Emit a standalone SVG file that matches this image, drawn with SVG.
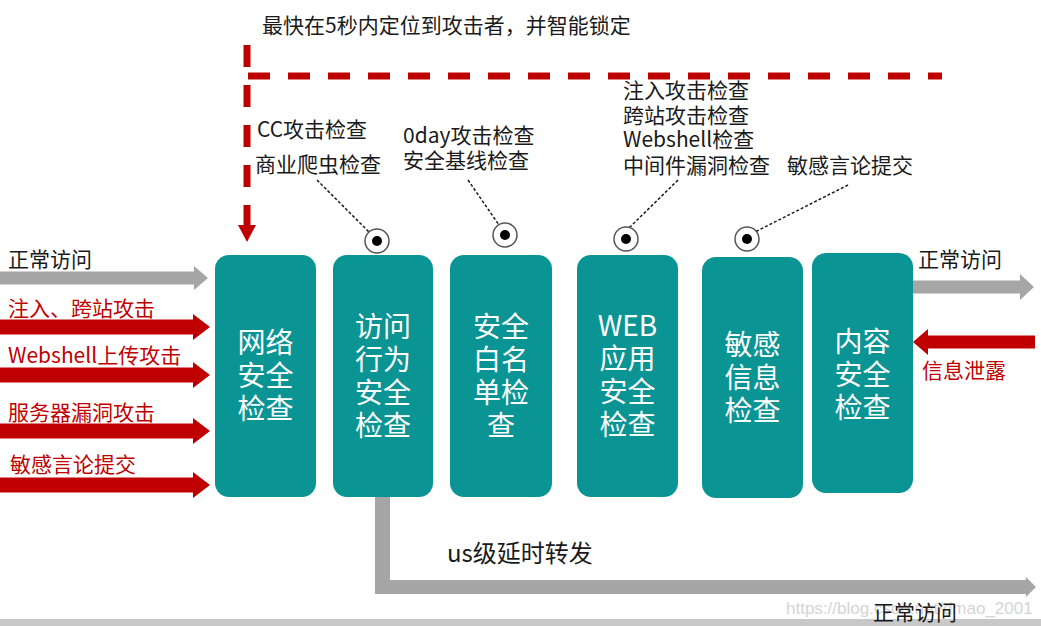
<svg xmlns="http://www.w3.org/2000/svg" width="1041" height="626" viewBox="0 0 1041 626">
<style>
.t{font-family:"Noto Sans CJK SC","Liberation Sans",sans-serif;font-size:21px;fill:#1a1a1a}
.r{fill:#c00000}
.bt{font-family:"Noto Sans CJK SC","Liberation Sans",sans-serif;font-size:28px;fill:#ffffff;text-anchor:middle}
.box{fill:#0a9494}
.grey{fill:#a6a6a6}
.red{fill:#c00000}
.dot{fill:none;stroke:#1a1a1a;stroke-width:1.5;stroke-dasharray:3 2}
.ring{fill:#ffffff;stroke:#555555;stroke-width:1.5}
.ctr{fill:#000000}
.dash{fill:none;stroke:#c00000;stroke-width:7;stroke-dasharray:22 18}
</style>
<rect x="0" y="0" width="1041" height="626" fill="#ffffff"/>
<rect x="0" y="619" width="1041" height="7" fill="#c8c8c8"/>
<text x="786" y="614" style="font-family:'Liberation Sans',sans-serif;font-size:17px;fill:#d4d4d4">https://blog.csdn.net/dmao_2001</text>

<g id="connectors">
  <path class="dash" d="M247,45 V226"/>
  <path class="dash" d="M248,76 H942"/>
  <polygon class="red" points="238,225 256,225 247,242"/>
  <polygon class="grey" points="0,271.5 194,271.5 194,266 208,278 194,290 194,284.5 0,284.5"/>
  <polygon class="red" points="0,319.5 193,319.5 193,314 210,327 193,340 193,334.5 0,334.5"/>
  <polygon class="red" points="0,367.5 193,367.5 193,362 210,375 193,388 193,382.5 0,382.5"/>
  <polygon class="red" points="0,423.5 193,423.5 193,418 210,431 193,444 193,438.5 0,438.5"/>
  <polygon class="red" points="0,477.5 193,477.5 193,472 210,485 193,498 193,492.5 0,492.5"/>
  <polygon class="grey" points="913,280.5 1020,280.5 1020,274 1034,287 1020,300 1020,293.5 913,293.5"/>
  <polygon class="red" points="1035,335.5 928,335.5 928,329 913,342 928,355 928,348.5 1035,348.5"/>
  <polygon class="grey" points="375,497 390,497 390,580 1026,580 1026,577 1036,587 1026,597 1026,594 375,594"/>
  <line class="dot" x1="317" y1="180" x2="369" y2="232"/>
  <line class="dot" x1="468" y1="180" x2="499" y2="225"/>
  <line class="dot" x1="678" y1="180" x2="629" y2="228"/>
  <line class="dot" x1="848" y1="185" x2="755" y2="232"/>
  <circle class="ring" cx="377" cy="241" r="12"/><circle class="ctr" cx="377" cy="241" r="5"/>
  <circle class="ring" cx="505" cy="235" r="12"/><circle class="ctr" cx="505" cy="235" r="5"/>
  <circle class="ring" cx="626" cy="239" r="12"/><circle class="ctr" cx="626" cy="239" r="5"/>
  <circle class="ring" cx="747" cy="239" r="12"/><circle class="ctr" cx="747" cy="239" r="5"/>
</g>

<g id="labels">
  <text class="t" x="262" y="33">最快在5秒内定位到攻击者，并智能锁定</text>
  <text class="t" x="8" y="267">正常访问</text>
  <text class="t r" x="8" y="316">注入、跨站攻击</text>
  <text class="t r" x="8" y="363">Webshell上传攻击</text>
  <text class="t r" x="8" y="420">服务器漏洞攻击</text>
  <text class="t r" x="10" y="472">敏感言论提交</text>
  <text class="t" x="257" y="137">CC攻击检查</text>
  <text class="t" x="255" y="172">商业爬虫检查</text>
  <text class="t" x="403" y="143">0day攻击检查</text>
  <text class="t" x="403" y="168">安全基线检查</text>
  <text class="t" x="623" y="98">注入攻击检查</text>
  <text class="t" x="623" y="123">跨站攻击检查</text>
  <text class="t" x="623" y="147">Webshell检查</text>
  <text class="t" x="623" y="173">中间件漏洞检查</text>
  <text class="t" x="787" y="173">敏感言论提交</text>
  <text class="t" x="918" y="267">正常访问</text>
  <text class="t r" x="922" y="378">信息泄露</text>
  <text class="t" x="447" y="562" style="font-size:24px">us级延时转发</text>
  <text class="t" x="873" y="620">正常访问</text>
</g>

<g id="node-network">
  <rect class="box" x="215" y="255" width="101" height="242" rx="14"/>
  <text class="bt" x="265.5" y="353">网络</text>
  <text class="bt" x="265.5" y="386">安全</text>
  <text class="bt" x="265.5" y="419">检查</text>
</g>
<g id="node-behavior">
  <rect class="box" x="333" y="255" width="100" height="242" rx="14"/>
  <text class="bt" x="383" y="337">访问</text>
  <text class="bt" x="383" y="370">行为</text>
  <text class="bt" x="383" y="403">安全</text>
  <text class="bt" x="383" y="436">检查</text>
</g>
<g id="node-whitelist">
  <rect class="box" x="450" y="255" width="102" height="242" rx="14"/>
  <text class="bt" x="501" y="337">安全</text>
  <text class="bt" x="501" y="370">白名</text>
  <text class="bt" x="501" y="403">单检</text>
  <text class="bt" x="501" y="436">查</text>
</g>
<g id="node-web">
  <rect class="box" x="577" y="255" width="101" height="242" rx="14"/>
  <text class="bt" x="627.5" y="336">WEB</text>
  <text class="bt" x="627.5" y="369">应用</text>
  <text class="bt" x="627.5" y="402">安全</text>
  <text class="bt" x="627.5" y="435">检查</text>
</g>
<g id="node-sensitive">
  <rect class="box" x="702" y="257" width="101" height="241" rx="14"/>
  <text class="bt" x="752.5" y="355">敏感</text>
  <text class="bt" x="752.5" y="388">信息</text>
  <text class="bt" x="752.5" y="421">检查</text>
</g>
<g id="node-content">
  <rect class="box" x="812" y="253" width="101" height="240" rx="14"/>
  <text class="bt" x="862.5" y="352">内容</text>
  <text class="bt" x="862.5" y="385">安全</text>
  <text class="bt" x="862.5" y="418">检查</text>
</g>
</svg>
